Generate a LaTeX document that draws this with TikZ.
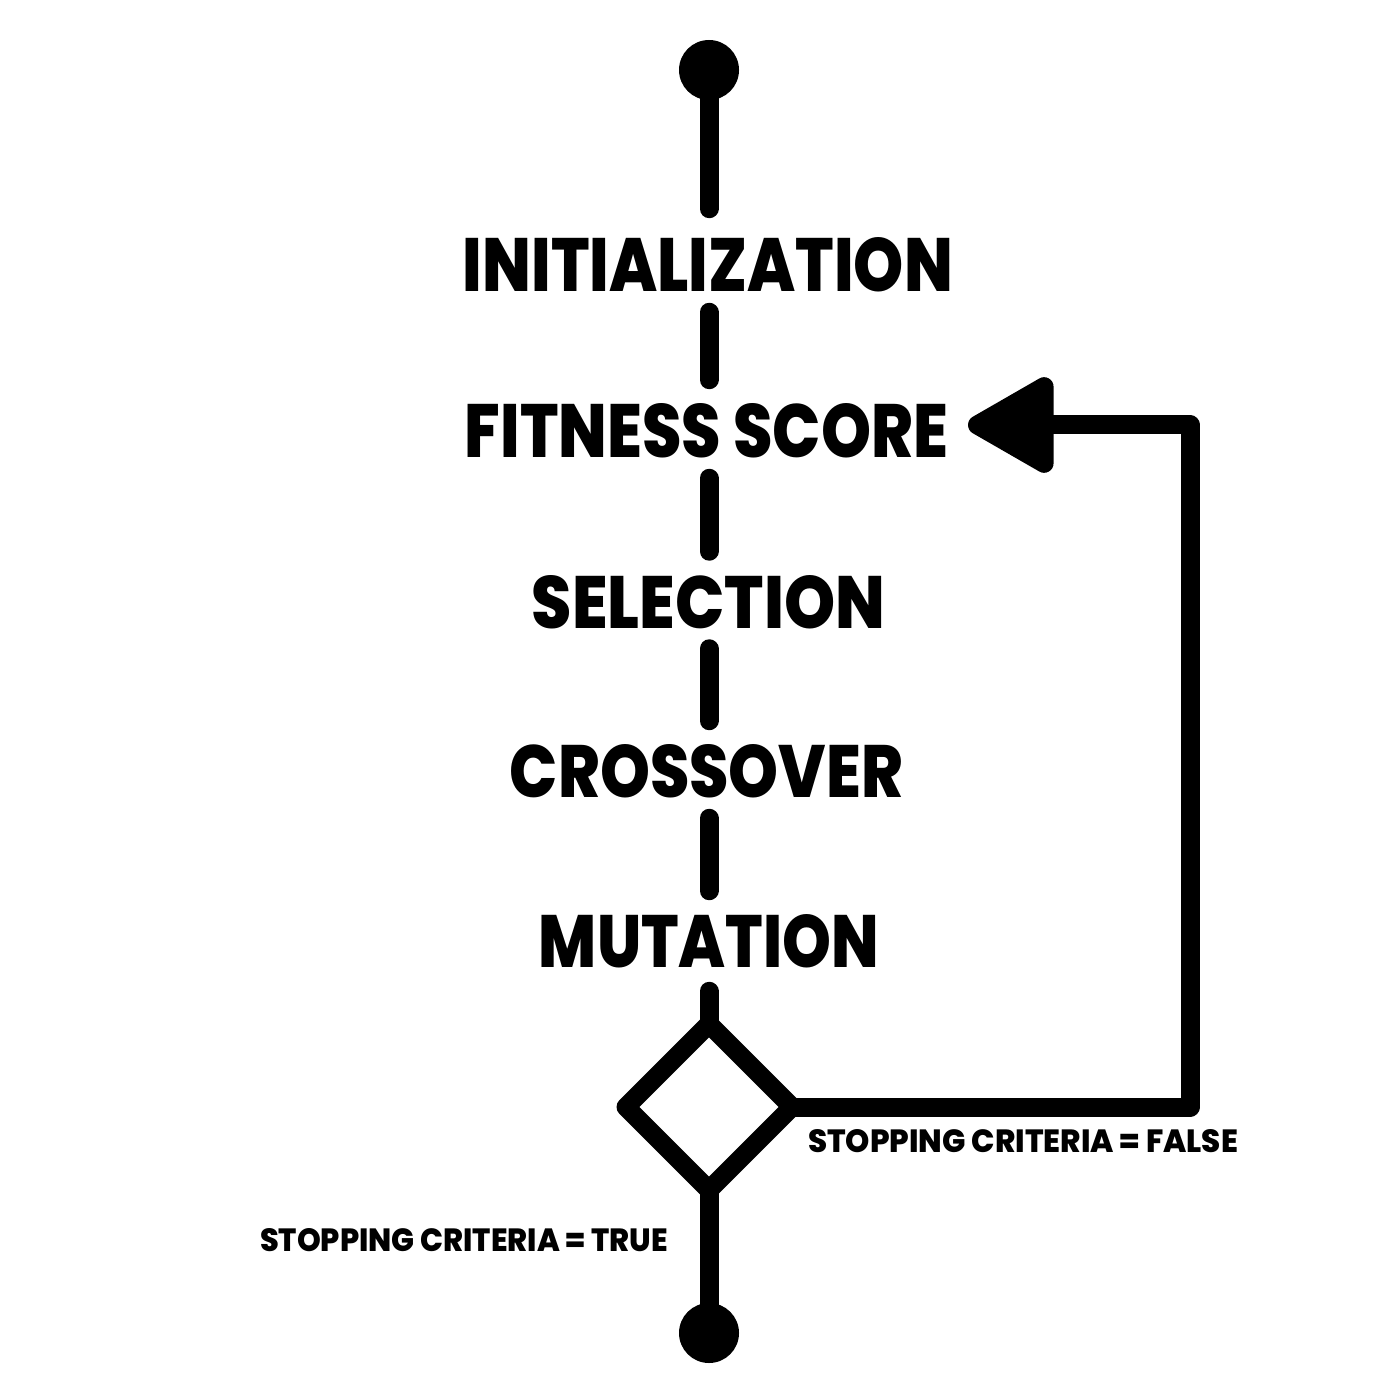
\documentclass[tikz,border=0pt]{standalone}
\usepackage{fontspec}
\setmainfont{Poppins}
\newfontfamily\heavyfont{Poppins ExtraBold}
\usepackage{graphicx}
\usetikzlibrary{arrows.meta,shapes.geometric,calc}
\newcommand{\fitlabel}[3]{\resizebox{#1}{#2}{\heavyfont #3}}
\begin{document}
\begin{tikzpicture}[x=0.5pt,y=-0.5pt,
  stage/.style={inner sep=0pt,outer sep=0pt},
  link/.style={line width=9.5pt,line cap=round,line join=round},
  dashlink/.style={link,shorten <=10pt,shorten >=12pt},
  dot/.style={circle,fill=black,inner sep=0pt,minimum size=30pt},
  decision/.style={diamond,draw,line width=9.5pt,line join=round,inner sep=0pt,outer sep=0pt,minimum width=83pt,minimum height=83pt}]
\useasboundingbox (0,0) rectangle (1400,1400);
\fill[white] (0,0) rectangle (1400,1400);
% nodes
\node[dot] (start) at (709,70) {};
\node[stage] (init) at (708,265) {\fitlabel{245pt}{27pt}{INITIALIZATION}};
\node[stage] (fit) at (706.5,431) {\fitlabel{241.5pt}{27pt}{FITNESS SCORE}};
\node[stage] (sel) at (708.5,602) {\fitlabel{176.5pt}{26.5pt}{SELECTION}};
\node[stage] (cross) at (706.5,771.5) {\fitlabel{196.5pt}{26.5pt}{CROSSOVER}};
\node[stage] (mut) at (709,941.5) {\fitlabel{170pt}{26.5pt}{MUTATION}};
\node[decision] (dec) at (709,1107) {};
\node[dot] (stop) at (709,1333) {};
\node[stage] (lfalse) at (1023,1141) {\fitlabel{215pt}{11.5pt}{STOPPING CRITERIA = FALSE}};
\node[stage] (ltrue) at (464,1240) {\fitlabel{204pt}{11.5pt}{STOPPING CRITERIA = TRUE}};
\coordinate (rt) at (1190,425);
% connectors
\draw[link,shorten >=14.5pt] (start.center) -- (init.north -| start);
\draw[dashlink] (init.south -| start) -- (fit.north -| start);
\draw[dashlink] (fit.south -| start) -- (sel.north -| start);
\draw[dashlink] (sel.south -| start) -- (cross.north -| start);
\draw[dashlink] (cross.south -| start) -- (mut.north -| start);
\draw[link,shorten <=11.5pt] (mut.south -| start) -- (dec.north);
\draw[link] (dec.south) -- (stop.center);
\draw[link,shorten >=10pt,-{Triangle[length=48pt,width=52pt,round]}]
  (dec.east) -- (dec.east -| rt) -- (rt) -- (fit.east |- rt);
\end{tikzpicture}
\end{document}
